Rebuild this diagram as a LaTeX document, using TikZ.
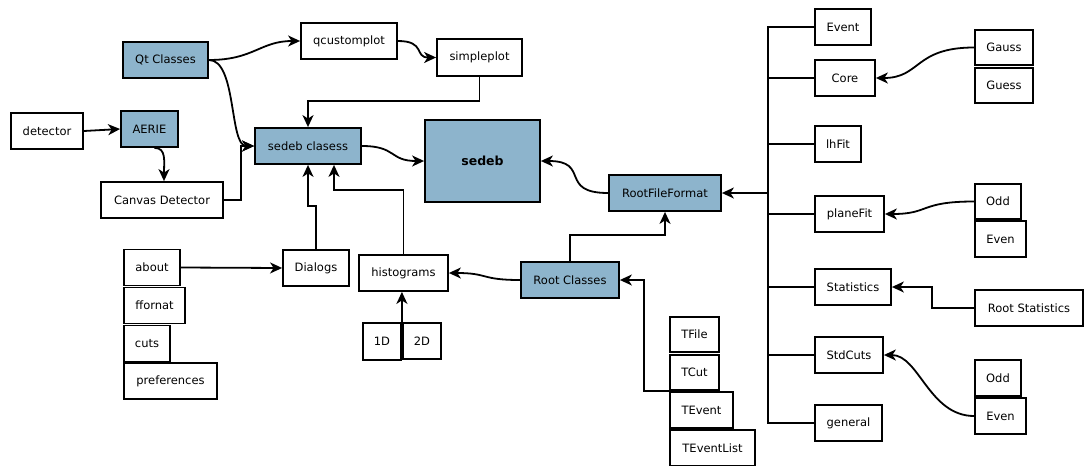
\documentclass[tikz,border=0pt]{standalone}
\usepackage{fontspec}
\setmainfont{DejaVu Sans}
\usetikzlibrary{arrows.meta}
\definecolor{boxblue}{RGB}{141,180,204}
\begin{document}
\begin{tikzpicture}[x=1pt,y=-1pt,
  box/.style={draw=black, line width=1.8pt, minimum height=36pt, inner sep=0pt, font=\fontsize{11.5}{13}\selectfont},
  bluebox/.style={box, fill=boxblue},
  conn/.style={line width=1.8pt, line join=miter},
  arr/.style={conn, -{Stealth[length=12pt,width=11pt,inset=3.5pt]}}]
\useasboundingbox (0,0) rectangle (1085,466);
% left / middle nodes
\node[bluebox, minimum width=85pt] (qt) at (165.5,60) {Qt Classes};
\node[box, minimum width=96pt] (qcp) at (349,41) {qcustomplot};
\node[box, minimum width=85pt, minimum height=37pt] (sp) at (479.5,57.5) {simpleplot};
\node[box, minimum width=72pt] (det) at (47,131) {detector};
\node[bluebox, minimum width=57pt] (aerie) at (149.5,129) {AERIE};
\node[bluebox, minimum width=106pt] (sc) at (308,146) {sedeb clasess};
\node[box, minimum width=122pt] (cd) at (162,200) {Canvas Detector};
\node[bluebox, minimum width=115pt, minimum height=82pt, font=\fontsize{12.5}{14}\selectfont\bfseries] (sedeb) at (482.5,161) {sedeb};
\node[bluebox, minimum width=112pt] (rff) at (665,193) {RootFileFormat};
\node[box, minimum width=56pt] (about) at (152,267.5) {about};
\node[box, minimum width=61pt] (ffor) at (154.5,305.5) {ffornat};
\node[box, minimum width=46pt] (cuts) at (147,343.5) {cuts};
\node[box, minimum width=93pt] (pref) at (170.5,381) {preferences};
\node[box, minimum width=66pt] (dlg) at (316,268) {Dialogs};
\node[box, minimum width=89pt] (hist) at (403.5,273) {histograms};
\node[bluebox, minimum width=98pt] (rc) at (570,280) {Root Classes};
\node[box, minimum width=38pt, minimum height=37pt] (d1) at (382,341.5) {1D};
\node[box, minimum width=38pt] (d2) at (422,341) {2D};
\node[box, minimum width=49pt, minimum height=35pt] (tfile) at (694.5,334.5) {TFile};
\node[box, minimum width=49pt, minimum height=35pt] (tcut) at (694.5,372.5) {TCut};
\node[box, minimum width=63pt] (tev) at (701.5,410) {TEvent};
\node[box, minimum width=85pt] (tevl) at (712.5,448) {TEventList};
% right column
\node[box, minimum width=56pt] (event) at (843,27) {Event};
\node[box, minimum width=60pt] (core) at (845,78) {Core};
\node[box, minimum width=46pt] (lhfit) at (838,144) {lhFit};
\node[box, minimum width=69pt] (plane) at (849.5,214) {planeFit};
\node[box, minimum width=76pt] (stat) at (853,287) {Statistics};
\node[box, minimum width=68pt] (stdc) at (849,355) {StdCuts};
\node[box, minimum width=67pt] (gen) at (848.5,423) {general};
\node[box, minimum width=58pt, minimum height=35pt] (gauss) at (1004,47.5) {Gauss};
\node[box, minimum width=58pt, minimum height=35pt] (guess) at (1004,85.5) {Guess};
\node[box, minimum width=46pt, minimum height=35pt] (odda) at (998,201.5) {Odd};
\node[box, minimum width=51pt] (evena) at (1000.5,239) {Even};
\node[box, minimum width=108pt] (rstat) at (1029,308) {Root Statistics};
\node[box, minimum width=46pt] (oddb) at (998,378) {Odd};
\node[box, minimum width=51pt] (evenb) at (1000.5,416) {Even};
\coordinate (bus) at (768,193);
% connectors
\draw[arr] (qt.east) .. controls +(45,0) and +(-40,0) .. (qcp.west);
\draw[arr] (qt.east) .. controls +(28,0) and +(-25,0) .. (sc.west);
\draw[arr] (qcp.east) .. controls +(28,0) and +(-22,0) .. (sp.west);
\draw[arr] (sp.south) -- ++(0,24) -| (sc.north);
\draw[arr] (det.east) -- (aerie.west);
\draw[arr] ([xshift=5pt]aerie.south) .. controls +(12,0) and +(0,-20) .. ([xshift=2pt]cd.north);
\draw[arr] (cd.east) -- ++(17,0) |- (sc.west);
\draw[arr] (sc.east) .. controls +(35,0) and +(-35,0) .. (sedeb.west);
\draw[arr] (rff.west) .. controls +(-50,0) and +(50,0) .. (sedeb.east);
\draw[arr] (dlg.north) -- ++(0,-43) -| (sc.south);
\draw[arr] (hist.north) -- ++(0,-64) -| ([xshift=26pt]sc.south);
\draw[arr] (about.east) -- (dlg.west);
\draw[arr] (rc.west) .. controls +(-40,0) and +(40,0) .. (hist.east);
\draw[arr] (rc.north) -- ++(0,-26) -| (rff.south);
\draw[arr] (d1.north east) -- (d1.north east |- hist.south);
\draw[arr] (tev.north west) -- ++(-25,0) |- (rc.east);
\draw[conn] (event.west) -| (bus);
\draw[conn] (core.west) -| (bus);
\draw[conn] (lhfit.west) -| (bus);
\draw[conn] (plane.west) -| (bus);
\draw[conn] (stat.west) -| (bus);
\draw[conn] (stdc.west) -| (bus);
\draw[conn] (gen.west) -| (bus);
\draw[arr] (bus) -- (rff.east);
\draw[arr] (gauss.west) .. controls +(-60,0) and +(45,0) .. (core.east);
\draw[arr] (odda.west) .. controls +(-55,0) and +(45,0) .. (plane.east);
\draw[arr] (rstat.west) -- ++(-42,0) |- (stat.east);
\draw[arr] (evenb.west) .. controls +(-45,0) and +(35,0) .. (stdc.east);
\end{tikzpicture}
\end{document}
